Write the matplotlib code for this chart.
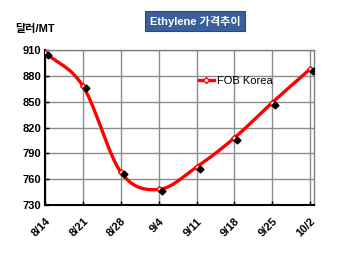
import matplotlib
matplotlib.use("Agg")
import matplotlib.pyplot as plt
import matplotlib.transforms as mtransforms
import numpy as np

dates = ["8/14", "8/21", "8/28", "9/4", "9/11", "9/18", "9/25", "10/2"]
fob_korea = [907, 868, 768, 748, 774, 808, 849, 888]
y_ticks = [730, 760, 790, 820, 850, 880, 910]

FONT = ["Liberation Sans", "Noto Sans CJK KR", "DejaVu Sans"]


def catmull_rom(x, y, steps=30):
    # smooth curve like an Excel "smoothed line"
    px = np.concatenate([[2 * x[0] - x[1]], x, [2 * x[-1] - x[-2]]])
    py = np.concatenate([[2 * y[0] - y[1]], y, [2 * y[-1] - y[-2]]])
    xs, ys = [], []
    t = np.linspace(0, 1, steps)
    for i in range(1, len(px) - 2):
        for p, out in ((px, xs), (py, ys)):
            p0, p1, p2, p3 = p[i - 1], p[i], p[i + 1], p[i + 2]
            out.extend(0.5 * (2 * p1 + (-p0 + p2) * t
                              + (2 * p0 - 5 * p1 + 4 * p2 - p3) * t ** 2
                              + (-p0 + 3 * p1 - 3 * p2 + p3) * t ** 3))
    return np.array(xs), np.array(ys)


fig = plt.figure(figsize=(3.5, 2.54), dpi=100)
ax = fig.add_axes([0.129, 0.193, 0.768, 0.61])

x = np.arange(len(dates), dtype=float)
y = np.array(fob_korea, dtype=float)
sx, sy = catmull_rom(x, y)

ax.plot(sx, sy, color="#ff0000", lw=2.4, zorder=3, solid_capstyle="round")
ax.plot(x, y, ls="none", marker="D", ms=3, mfc="white", mec="#ff0000", zorder=4)
off = mtransforms.ScaledTranslation(3 / 100, -2 / 100, fig.dpi_scale_trans)
ax.plot(x, y, ls="none", marker="D", ms=3.5, color="black", zorder=5,
        transform=ax.transData + off)

# legend entry
ax.plot([], [], color="#ff0000", lw=2.4, marker="D", ms=3, mfc="white",
        mec="#ff0000", label="FOB Korea")
ax.legend(loc="upper left", bbox_to_anchor=(0.55, 0.87), frameon=False,
          handlelength=1.4, handletextpad=0.25, borderpad=0,
          prop={"family": FONT, "size": 8})

ax.set_xlim(0, 7.1)
ax.set_ylim(730, 910)
ax.set_xticks(x)
ax.set_xticklabels(dates, rotation=45, ha="right", va="top",
                   rotation_mode="anchor", family=FONT, fontsize=8,
                   fontweight="bold")
ax.set_yticks(y_ticks)
ax.set_yticklabels([str(v) for v in y_ticks], family=FONT, fontsize=8,
                   fontweight="bold")
ax.tick_params(direction="in", length=3, width=1, pad=3)
ax.tick_params(axis="x", pad=8)
ax.grid(True, color="#8c8c8c", lw=1)
ax.set_axisbelow(True)
for side in ("left", "bottom"):
    ax.spines[side].set_linewidth(1.5)
    ax.spines[side].set_color("black")
for side in ("top", "right"):
    ax.spines[side].set_linewidth(1)
    ax.spines[side].set_color("#808080")

fig.text(0.043, 0.885, "달러/MT", family=FONT, fontsize=8,
         fontweight="bold", va="center")
fig.text(0.557, 0.917, "Ethylene 가격추이", family=FONT, fontsize=8,
         fontweight="bold", color="white", ha="center", va="center",
         bbox=dict(boxstyle="square,pad=0.4", fc="#3a5f9a", ec="#2b4a7a", lw=0.8))

fig.savefig("out.png", dpi=100)
